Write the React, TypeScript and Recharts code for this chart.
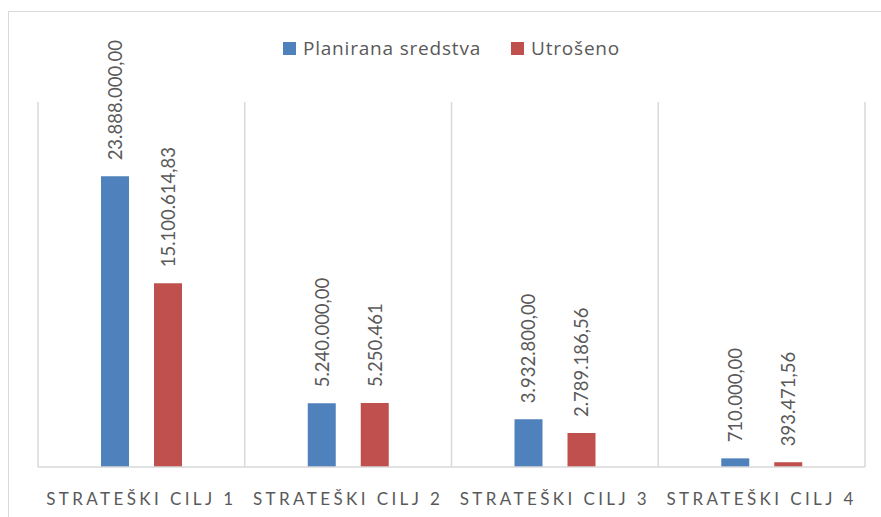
import { BarChart, Bar, XAxis, YAxis, CartesianGrid, Legend, LabelList } from "recharts";

const categories = ["STRATEŠKI CILJ 1", "STRATEŠKI CILJ 2", "STRATEŠKI CILJ 3", "STRATEŠKI CILJ 4"];
const planned = [23888000, 5240000, 3932800, 710000];
const spent = [15100614.83, 5250461, 2789186.56, 393471.56];
// oznake točno kako stoje na slici (drugi "Utrošeno" nema decimala)
const plannedLabels = ["23.888.000,00", "5.240.000,00", "3.932.800,00", "710.000,00"];
const spentLabels = ["15.100.614,83", "5.250.461", "2.789.186,56", "393.471,56"];

const BLUE = "#4f81bd";
const RED = "#c0504d";
const GRID = "#d9d9d9";
const TEXT = "#595959";
const FONT = "Lato, 'Liberation Sans', sans-serif";

const data = categories.map((name, i) => ({
  name,
  planned: planned[i],
  spent: spent[i],
  plannedLabel: plannedLabels[i],
  spentLabel: spentLabels[i],
}));

function VerticalLabel(props: any) {
  const { x, y, width, value } = props;
  const cx = x + width / 2;
  const ty = y - 16;
  return (
    <text
      x={cx}
      y={ty}
      transform={`rotate(-90, ${cx}, ${ty})`}
      textAnchor="start"
      dominantBaseline="central"
      fontSize={18.5}
      fontFamily={FONT}
      fill={TEXT}
    >
      {value}
    </text>
  );
}

function CategoryTick(props: any) {
  const { x, y, payload } = props;
  return (
    <text
      x={x}
      y={y + 30}
      textAnchor="middle"
      fontSize={17}
      fontFamily={FONT}
      fill={TEXT}
      style={{ letterSpacing: "3.4px" }}
    >
      {payload.value}
    </text>
  );
}

function LegendBox() {
  const items = [
    { label: "Planirana sredstva", color: BLUE },
    { label: "Utrošeno", color: RED },
  ];
  return (
    <div style={{ height: 66, display: "flex", justifyContent: "center", alignItems: "flex-start" }}>
      {items.map((it, i) => (
        <div
          key={it.label}
          style={{
            display: "flex",
            alignItems: "center",
            height: 24,
            marginLeft: i === 0 ? 0 : 30,
            fontFamily: "'Open Sans', sans-serif",
            fontSize: 19,
            letterSpacing: "0.8px",
            color: TEXT,
          }}
        >
          <span style={{ width: 13, height: 13, background: it.color, marginRight: 7, display: "inline-block" }} />
          {it.label}
        </div>
      ))}
    </div>
  );
}

export default function App() {
  return (
    <>
      <style>{`body{margin:0;overflow:hidden;}`}</style>
      <div
        style={{
          position: "absolute",
          left: 8,
          top: 11,
          width: 874,
          height: 510,
          border: `1px solid ${GRID}`,
          boxSizing: "border-box",
          background: "#fff",
        }}
      >
        <BarChart
          width={872}
          height={505}
          data={data}
          margin={{ top: 24, right: 16, bottom: 10, left: 29 }}
          barSize={28}
          barGap={25}
        >
          <CartesianGrid
            horizontal={false}
            stroke={GRID}
            strokeWidth={1.5}
            verticalCoordinatesGenerator={({ offset }: any) =>
              [0, 1, 2, 3, 4].map((i) => offset.left + (offset.width * i) / 4)
            }
          />
          <XAxis
            dataKey="name"
            height={40}
            axisLine={{ stroke: GRID, strokeWidth: 1.5 }}
            tickLine={false}
            tick={<CategoryTick />}
            interval={0}
          />
          <YAxis hide domain={[0, 30000000]} />
          <Legend verticalAlign="top" content={<LegendBox />} />
          <Bar dataKey="planned" name="Planirana sredstva" fill={BLUE} isAnimationActive={false}>
            <LabelList dataKey="plannedLabel" content={<VerticalLabel />} />
          </Bar>
          <Bar dataKey="spent" name="Utrošeno" fill={RED} isAnimationActive={false}>
            <LabelList dataKey="spentLabel" content={<VerticalLabel />} />
          </Bar>
        </BarChart>
      </div>
    </>
  );
}
